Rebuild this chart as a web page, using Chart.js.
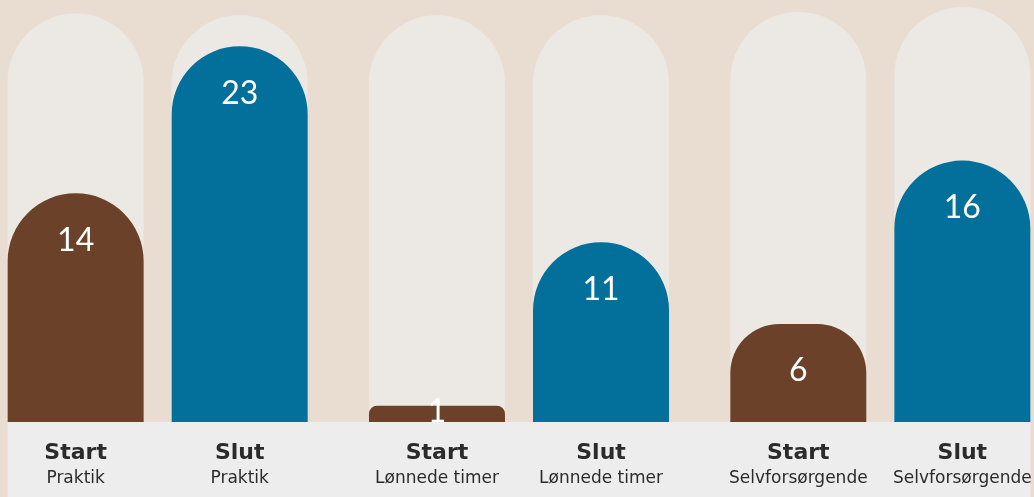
<!DOCTYPE html>
<html>
<head>
<meta charset="utf-8">
<script src="https://cdn.jsdelivr.net/npm/chart.js@4"></script>
<style>
  html, body { margin: 0; padding: 0; background: #e9ddd2; overflow: hidden; }
  #wrap { position: relative; left: -23px; width: 1084px; height: 497px; }
</style>
</head>
<body>
<div id="wrap"><canvas id="chart"></canvas></div>
<script>
const groups = ["Praktik", "Lønnede timer", "Selvforsørgende"];
const phaseLabels = ["Start", "Slut"];
const startValues = [14, 1, 6];
const slutValues = [23, 11, 16];
// pale "track" bars behind each bar
const startTrack = [25.0, 24.9, 25.1];
const slutTrack = [24.9, 24.9, 25.4];

const brown = "#6b4129";
const blue = "#036f9b";
const track = "#ece8e3";

// strip at the bottom + the two-line labels + values inside bars
const labelsPlugin = {
  id: "labels",
  afterDatasetsDraw(chart) {
    const ctx = chart.ctx;
    const area = chart.chartArea;
    const fg = [chart.getDatasetMeta(0), chart.getDatasetMeta(1)];
    const first = fg[0].data[0];
    const last = fg[1].data[fg[1].data.length - 1];
    const x0 = first.x - first.width / 2;
    const x1 = last.x + last.width / 2;

    ctx.save();
    ctx.fillStyle = "#ededed";
    ctx.fillRect(x0, area.bottom, x1 - x0, chart.height - area.bottom);

    ctx.textAlign = "center";
    fg.forEach((meta, di) => {
      meta.data.forEach((bar, i) => {
        ctx.fillStyle = "#2b2b2b";
        ctx.textBaseline = "alphabetic";
        ctx.font = "bold 22px 'DejaVu Sans'";
        ctx.fillText(phaseLabels[di], bar.x, area.bottom + 37);
        ctx.font = "17px 'DejaVu Sans'";
        ctx.fillText(groups[i], bar.x, area.bottom + 61);

        const v = chart.data.datasets[di].data[i];
        const y = Math.min(bar.y + 47, (bar.y + bar.base) / 2 - 2);
        ctx.fillStyle = "#ffffff";
        ctx.textBaseline = "middle";
        ctx.font = "32px Lato";
        ctx.fillText(String(v), bar.x, y);
      });
    });
    ctx.restore();
  }
};

const barOpts = { categoryPercentage: 0.908, barPercentage: 0.829, borderRadius: 999, borderSkipped: "bottom" };

new Chart(document.getElementById("chart"), {
  type: "bar",
  data: {
    labels: groups,
    datasets: [
      { label: "Start", data: startValues, backgroundColor: brown, stack: "start", order: 1, ...barOpts },
      { label: "Slut", data: slutValues, backgroundColor: blue, stack: "slut", order: 1, ...barOpts },
      { label: "Start track", data: startTrack, backgroundColor: track, stack: "start", order: 2, ...barOpts },
      { label: "Slut track", data: slutTrack, backgroundColor: track, stack: "slut", order: 2, ...barOpts },
    ],
  },
  options: {
    responsive: true,
    maintainAspectRatio: false,
    animation: false,
    layout: { padding: { top: 7, bottom: 75, left: 0, right: 0 } },
    plugins: { legend: { display: false }, tooltip: { enabled: false } },
    scales: {
      x: { display: false },
      y: { display: false, stacked: false, min: 0, max: 25.4 },
    },
  },
  plugins: [labelsPlugin],
});
</script>
</body>
</html>
